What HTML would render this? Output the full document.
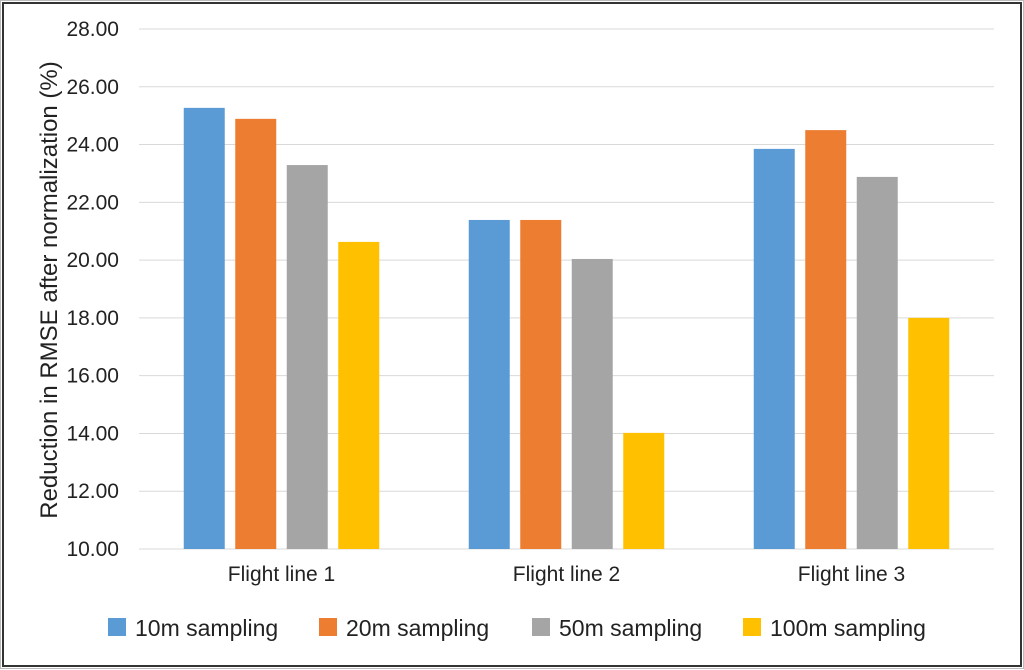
<!DOCTYPE html>
<html><head><meta charset="utf-8"><style>
html,body{margin:0;padding:0;background:#fff}
#wrap{position:relative;width:1024px;height:669px;box-sizing:border-box;border:1px solid #bbb;}
#frame{position:absolute;left:1px;top:1px;right:1px;bottom:1px;border:2px solid #333;background:#fff}
svg{position:absolute;left:0;top:0}
text{font-family:"Liberation Sans",sans-serif;fill:#222}
</style></head><body>
<div id="wrap"><div id="frame"></div>
<svg id="chart" width="1024" height="669"></svg></div>
<script>
const categories=["Flight line 1","Flight line 2","Flight line 3"];
const seriesNames=["10m sampling","20m sampling","50m sampling","100m sampling"];
const s10=[25.27,21.39,23.85];
const s20=[24.89,21.39,24.5];
const s50=[23.29,20.04,22.88];
const s100=[20.63,14.02,18.0];
const yTicks=[10,12,14,16,18,20,22,24,26,28];
const series=[s10,s20,s50,s100];
const colors=["#5b9bd5","#ed7d31","#a5a5a5","#ffc000"];
const NS="http://www.w3.org/2000/svg";
const svg=document.getElementById('chart');
const L=138,R=993,T=28,B=548,ymin=10,ymax=28;
const y=v=>B-(v-ymin)/(ymax-ymin)*(B-T);
const catW=(R-L)/categories.length;
const xc=i=>L+catW*(i+0.5);
function mk(tag,a,txt){const e=document.createElementNS(NS,tag);for(const k in a)e.setAttribute(k,a[k]);if(txt!=null)e.textContent=txt;svg.appendChild(e);return e;}
yTicks.forEach(t=>{
 const g=mk('line',{x1:L,x2:R,y1:y(t),y2:y(t),stroke:'#d9d9d9','stroke-width':1});
 
 
 const tx=mk('text',{x:118,y:y(t)+7,'text-anchor':'end','font-size':21},t.toFixed(2));
 
 
});
const bw=41,step=51.5;
series.forEach((s,j)=>{s.forEach((v,i)=>{
 const x=xc(i)+(j-1.5)*step-bw/2;
 const r=mk('rect',{x:x,y:y(v),width:bw,height:B-y(v),fill:colors[j]});
 
 
});});
categories.forEach((c,i)=>{
 const t=mk('text',{x:xc(i),y:580,'text-anchor':'middle','font-size':21},c);
 
 
});
const yt=mk('text',{x:0,y:0,'text-anchor':'middle','font-size':24,transform:'translate(56,289) rotate(-90)'},'Reduction in RMSE after normalization (%)');


const lx=[107,318,531,742];
seriesNames.forEach((n,j)=>{
 const r=mk('rect',{x:lx[j],y:617,width:18,height:18,fill:colors[j]});
 
 
 const t=mk('text',{x:lx[j]+27,y:635,'font-size':23},n);
 
 
});
</script></body></html>
